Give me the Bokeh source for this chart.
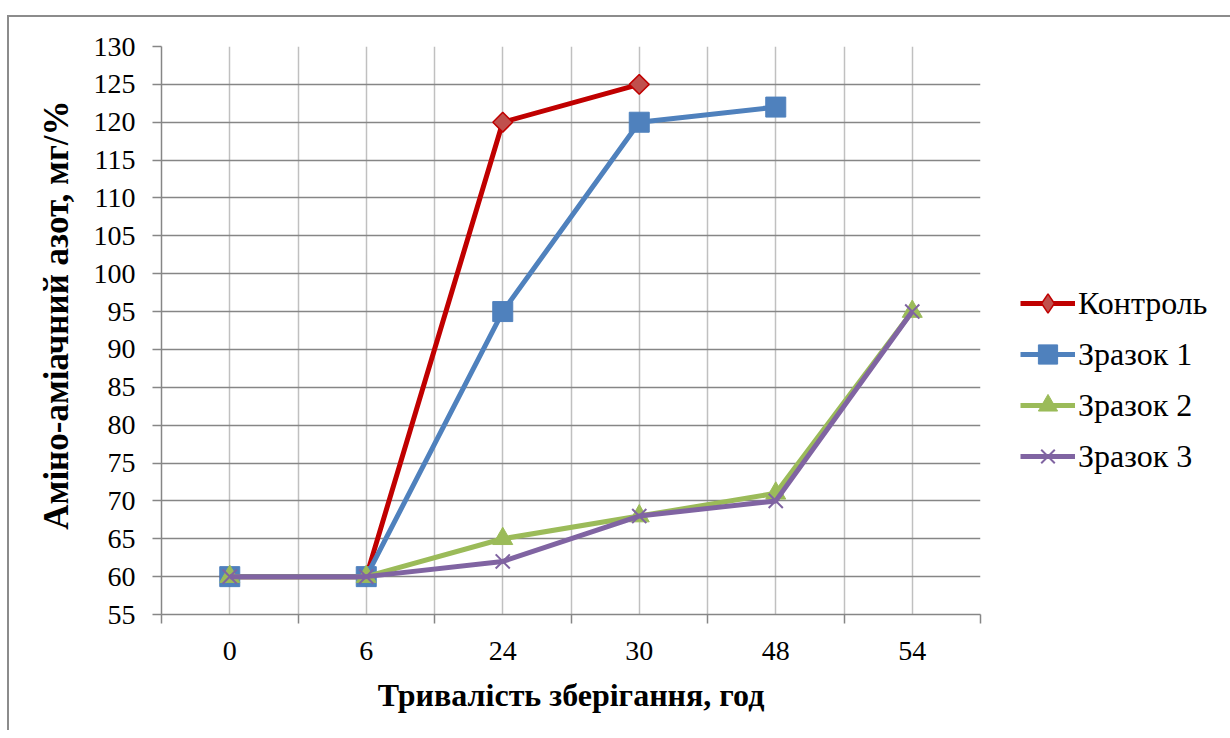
import math
from bokeh.plotting import figure
from bokeh.models import (FixedTicker, SingleIntervalTicker, Legend, LegendItem, Range1d, Title)
from bokeh.embed import file_html
from bokeh.resources import INLINE

# ---- data ----
categories = ["0", "6", "24", "30", "48", "54"]
kontrol = [60, 60, 120, 125]
zrazok1 = [60, 60, 95, 120, 122]
zrazok2 = [60, 60, 65, 68, 71, 95]
zrazok3 = [60, 60, 62, 68, 70, 95]
series_names = ["Контроль", "Зразок 1", "Зразок 2", "Зразок 3"]
x_title = "Тривалість зберігання, год"
y_title = "Аміно-аміачний азот, мг/%"

FONT = "Liberation Serif"
n = len(categories)
idx = list(range(n))

p = figure(frame_width=819, frame_height=568, output_backend="svg", toolbar_location=None,
           x_range=Range1d(-0.5, n - 0.5), y_range=Range1d(55, 130),
           min_border_left=161, min_border_right=0, min_border_top=46,
           min_border_bottom=116)
p.outline_line_color = None
p.background_fill_color = "white"
p.border_fill_alpha = 0
p.styles = {
    "background": "linear-gradient(#8c8c8c,#8c8c8c) 7px 15px / 2px 100% no-repeat, "
                  "linear-gradient(#8c8c8c,#8c8c8c) 7px 15px / 100% 2px no-repeat, white"
}

# x axis: labels at category centres, tick marks at boundaries
xt = FixedTicker(ticks=idx, minor_ticks=[i - 0.5 for i in range(n + 1)])
p.xaxis.ticker = xt
p.xaxis.major_label_overrides = {i: c for i, c in zip(idx, categories)}
p.xaxis.major_tick_line_color = None
p.xaxis.major_tick_out = 0
p.xaxis.major_tick_in = 0
p.xaxis.minor_tick_line_color = "#868686"
p.xaxis.minor_tick_line_width = 1.5
p.xaxis.minor_tick_out = 9
p.xaxis.minor_tick_in = 0
p.xaxis.axis_line_color = "#868686"
p.xaxis.axis_line_width = 1.5
p.xaxis.major_label_text_font = FONT
p.xaxis.major_label_text_font_size = "28px"
p.xaxis.major_label_text_color = "black"
p.xaxis.major_label_standoff = 18
p.xaxis.axis_label = x_title
p.xaxis.axis_label_text_font = FONT
p.xaxis.axis_label_text_font_size = "32px"
p.xaxis.axis_label_text_font_style = "bold"
p.xaxis.axis_label_text_color = "black"
p.xaxis.axis_label_standoff = 14

p.xgrid.ticker = xt
p.xgrid.grid_line_color = "#c0c0c0"
p.xgrid.grid_line_width = 1.5
p.xgrid.minor_grid_line_color = "#c0c0c0"
p.xgrid.minor_grid_line_width = 1.5

# y axis
yt = SingleIntervalTicker(interval=5, num_minor_ticks=0)
p.yaxis.ticker = yt
p.yaxis.major_tick_line_color = "#868686"
p.yaxis.major_tick_line_width = 1.5
p.yaxis.major_tick_out = 9
p.yaxis.major_tick_in = 0
p.yaxis.minor_tick_line_color = None
p.yaxis.axis_line_color = "#868686"
p.yaxis.axis_line_width = 1.5
p.yaxis.major_label_text_font = FONT
p.yaxis.major_label_text_font_size = "28px"
p.yaxis.major_label_text_color = "black"
p.yaxis.major_label_standoff = 17
p.ygrid.ticker = yt
p.ygrid.grid_line_color = "#868686"
p.ygrid.grid_line_width = 1.5

# y-axis title (side title, end of text placed a little below the frame top)
ytitle = Title(text=y_title, align="right", offset=54, standoff=30,
               text_font=FONT, text_font_size="35px", text_font_style="bold",
               text_color="black")
p.add_layout(ytitle, "left")

# series
styles = [
    dict(line="#c00000", marker="square", angle=math.pi / 4, size=14,
         fill="#c0504d", mline="#c00000", mlw=1.5, lmarker="diamond"),
    dict(line="#4f81bd", marker="square", angle=0, size=20,
         fill="#4f81bd", mline="#4f81bd", mlw=1, lmarker="square"),
    dict(line="#9bbb59", marker="triangle", angle=0, size=20,
         fill="#9bbb59", mline="#9bbb59", mlw=1, lmarker="triangle"),
    dict(line="#8064a2", marker="x", angle=0, size=20,
         fill="#8064a2", mline="#8064a2", mlw=2, lmarker="x"),
]
all_series = [kontrol, zrazok1, zrazok2, zrazok3]
items = []
for name, vals, st in zip(series_names, all_series, styles):
    xs = idx[:len(vals)]
    r1 = p.line(xs, vals, line_color=st["line"], line_width=5, line_join="round")
    r2 = p.scatter(xs, vals, marker=st["marker"], size=st["size"], angle=st["angle"],
                   fill_color=st["fill"], line_color=st["mline"], line_width=st["mlw"])
    # marker shape used only for the legend swatch (a single NaN point, not drawn)
    r3 = p.scatter([float("nan")], [float("nan")], marker=st["lmarker"], size=st["size"],
                   fill_color=st["fill"], line_color=st["mline"], line_width=st["mlw"])
    items.append(LegendItem(label=name, renderers=[r1, r3]))

legend = Legend(items=items, location=(40, 134), orientation="vertical",
                label_text_font=FONT, label_text_font_size="32px",
                label_text_color="black",
                glyph_width=55, glyph_height=48, label_height=48, spacing=3,
                padding=0, margin=0, border_line_color=None,
                background_fill_alpha=0, label_standoff=3)
p.add_layout(legend, "right")

open("out.html", "w").write(file_html(p, INLINE))
